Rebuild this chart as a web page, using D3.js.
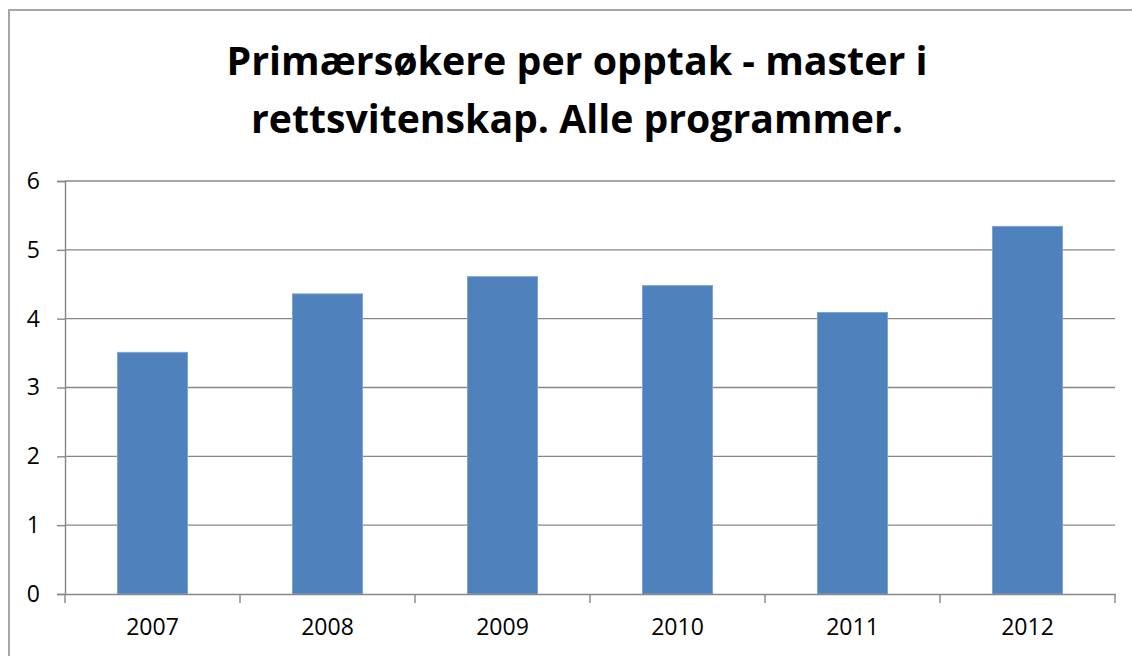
<!DOCTYPE html>
<html><head><meta charset="utf-8">
<script src="https://cdn.jsdelivr.net/npm/d3@7"></script>
<style>body{margin:0;background:#fff}svg{display:block}</style>
</head><body>
<svg id="c" width="1132" height="656"></svg>
<script>
const titleLines = ["Primærsøkere per opptak - master i", "rettsvitenskap. Alle programmer."];
const categories = ["2007", "2008", "2009", "2010", "2011", "2012"];
const values = [3.51, 4.36, 4.61, 4.48, 4.09, 5.34];
const yTicks = [0, 1, 2, 3, 4, 5, 6];

const svg = d3.select("#c");
const font = "'Open Sans', 'Liberation Sans', sans-serif";
const axisColor = "#878787";

// outer chart border
svg.append("rect").attr("x", 9).attr("y", 10).attr("width", 1200).attr("height", 700)
  .attr("fill", "#fff").attr("stroke", "#a6a6a6").attr("stroke-width", 2);

const L = 65, R = 1115, T = 181, B = 594;
const y = d3.scaleLinear().domain([0, 6]).range([B, T]);
const x = d3.scaleBand().domain(categories).range([L, R]).paddingInner(0.6).paddingOuter(0.3);

// gridlines
svg.append("g").selectAll("line").data(yTicks.filter(d => d > 0)).join("line")
  .attr("x1", L).attr("x2", R).attr("y1", d => y(d)).attr("y2", d => y(d))
  .attr("stroke", axisColor).attr("stroke-width", 1.4);

// bars
svg.append("g").selectAll("rect").data(values).join("rect")
  .attr("x", (d, i) => x(categories[i]))
  .attr("y", d => y(d))
  .attr("width", x.bandwidth())
  .attr("height", d => y(0) - y(d))
  .attr("fill", "#4f81bd").attr("stroke", "#7fa3d0").attr("stroke-width", 1);

// y axis
const yAxis = svg.append("g").attr("transform", `translate(${L},0)`)
  .call(d3.axisLeft(y).tickValues(yTicks).tickSize(8).tickPadding(17).tickFormat(d3.format("d")));
yAxis.select(".domain").attr("stroke", axisColor).attr("stroke-width", 1.4);
yAxis.selectAll(".tick line").attr("stroke", axisColor).attr("stroke-width", 1.4);
yAxis.selectAll("text").attr("font-family", font).attr("font-size", 23).attr("fill", "#000");

// x axis
const xAxis = svg.append("g").attr("transform", `translate(0,${B})`)
  .call(d3.axisBottom(x).tickSize(0).tickPadding(25));
xAxis.select(".domain").attr("stroke", axisColor).attr("stroke-width", 1.4);
xAxis.selectAll("text").attr("font-family", font).attr("font-size", 23).attr("fill", "#000");
// category boundary tick marks
const bounds = d3.range(categories.length + 1).map(i => L + i * (R - L) / categories.length);
svg.append("g").selectAll("line").data(bounds).join("line")
  .attr("x1", d => d).attr("x2", d => d).attr("y1", B).attr("y2", B + 9)
  .attr("stroke", axisColor).attr("stroke-width", 1.4);

// title
const tw = [701, 652];
svg.append("g").selectAll("text").data(titleLines).join("text")
  .attr("x", 577).attr("y", (d, i) => 75 + i * 58)
  .attr("text-anchor", "middle")
  .attr("font-family", font).attr("font-weight", "bold").attr("font-size", 39)
  .attr("textLength", (d, i) => tw[i]).attr("lengthAdjust", "spacingAndGlyphs")
  .text(d => d);
</script>
</body></html>
